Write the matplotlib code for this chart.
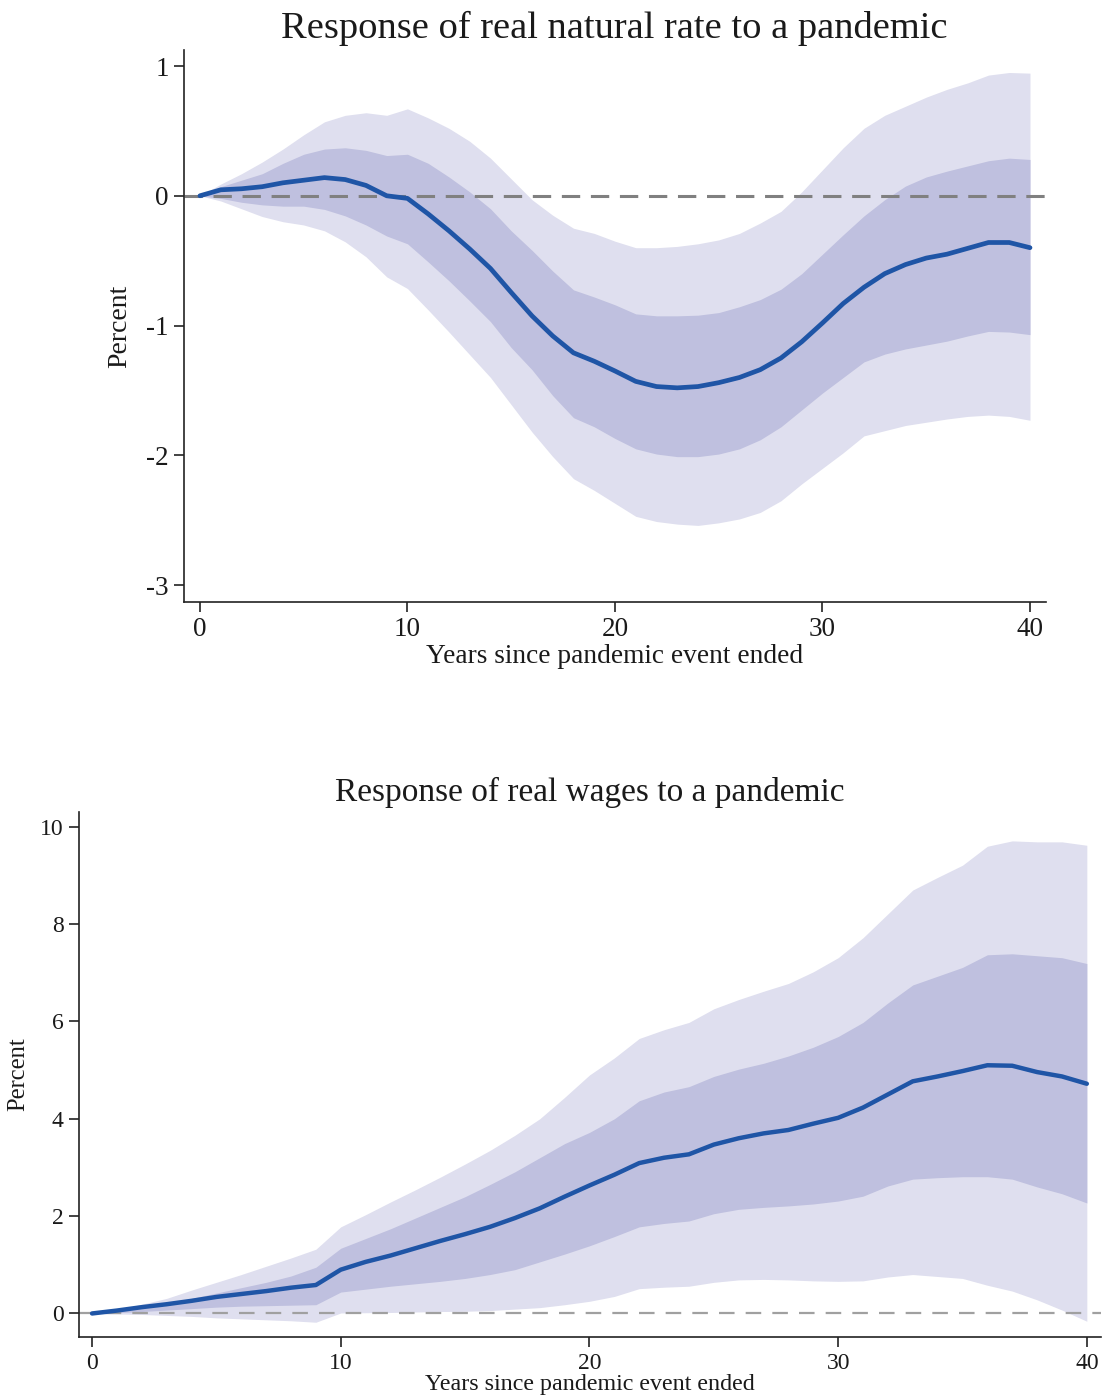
import matplotlib
matplotlib.use("Agg")
import matplotlib.pyplot as plt
import numpy as np

plt.rcParams['font.family'] = ['Liberation Serif', 'DejaVu Serif']

years = list(range(0, 41))

# Top panel: real natural rate
rate_mean = [0, 0.046, 0.054, 0.07, 0.1, 0.12, 0.14, 0.125, 0.08, 0.0, -0.02, -0.14, -0.27, -0.41,
             -0.56, -0.745, -0.925, -1.08, -1.21, -1.275, -1.35, -1.43, -1.47, -1.48, -1.47, -1.44,
             -1.40, -1.34, -1.25, -1.125, -0.98, -0.83, -0.705, -0.60, -0.53, -0.48, -0.45, -0.405,
             -0.36, -0.36, -0.40]
rate_hi90 = [0, 0.09, 0.17, 0.26, 0.36, 0.47, 0.57, 0.62, 0.64, 0.62, 0.67, 0.60, 0.52, 0.42, 0.29,
             0.13, -0.03, -0.15, -0.25, -0.29, -0.35, -0.40, -0.40, -0.39, -0.37, -0.34, -0.29,
             -0.21, -0.12, 0.03, 0.20, 0.37, 0.52, 0.62, 0.69, 0.76, 0.82, 0.87, 0.93, 0.95, 0.945]
rate_hi68 = [0, 0.07, 0.12, 0.17, 0.25, 0.32, 0.36, 0.37, 0.35, 0.31, 0.32, 0.25, 0.145, 0.03, -0.10,
             -0.27, -0.42, -0.58, -0.725, -0.78, -0.84, -0.91, -0.925, -0.925, -0.92, -0.90, -0.855,
             -0.80, -0.72, -0.60, -0.45, -0.30, -0.155, -0.03, 0.075, 0.145, 0.19, 0.23, 0.27, 0.29, 0.28]
rate_lo68 = [0, -0.02, -0.05, -0.07, -0.08, -0.08, -0.105, -0.155, -0.225, -0.31, -0.37, -0.51, -0.655,
             -0.81, -0.97, -1.17, -1.34, -1.54, -1.71, -1.78, -1.87, -1.95, -1.99, -2.01, -2.01, -1.99,
             -1.95, -1.88, -1.78, -1.65, -1.52, -1.40, -1.28, -1.22, -1.18, -1.15, -1.12, -1.08,
             -1.045, -1.05, -1.07]
rate_lo90 = [0, -0.04, -0.10, -0.16, -0.20, -0.225, -0.27, -0.355, -0.47, -0.625, -0.715, -0.88, -1.05,
             -1.225, -1.40, -1.61, -1.82, -2.01, -2.18, -2.27, -2.37, -2.47, -2.51, -2.53, -2.54, -2.52,
             -2.49, -2.44, -2.35, -2.22, -2.10, -1.98, -1.85, -1.81, -1.77, -1.745, -1.72, -1.70,
             -1.69, -1.70, -1.73]

# Bottom panel: real wages
wage_mean = [0, 0.06, 0.13, 0.19, 0.26, 0.34, 0.40, 0.46, 0.53, 0.585, 0.90, 1.06, 1.19, 1.34, 1.49,
             1.63, 1.78, 1.96, 2.16, 2.40, 2.63, 2.85, 3.09, 3.20, 3.27, 3.47, 3.60, 3.70, 3.77, 3.90,
             4.02, 4.23, 4.50, 4.77, 4.87, 4.98, 5.10, 5.09, 4.96, 4.87, 4.72]
wage_hi90 = [0, 0.07, 0.19, 0.31, 0.48, 0.64, 0.80, 0.97, 1.14, 1.32, 1.78, 2.03, 2.29, 2.54, 2.80,
             3.07, 3.35, 3.66, 4.00, 4.44, 4.90, 5.25, 5.65, 5.83, 5.98, 6.26, 6.45, 6.62, 6.78, 7.02,
             7.31, 7.72, 8.21, 8.70, 8.96, 9.21, 9.60, 9.71, 9.69, 9.69, 9.62]
wage_hi68 = [0, 0.04, 0.12, 0.20, 0.31, 0.42, 0.53, 0.64, 0.77, 0.95, 1.34, 1.54, 1.74, 1.96, 2.18,
             2.40, 2.65, 2.91, 3.20, 3.49, 3.72, 4.00, 4.37, 4.55, 4.66, 4.87, 5.02, 5.14, 5.29, 5.47,
             5.69, 5.98, 6.38, 6.75, 6.93, 7.11, 7.37, 7.39, 7.35, 7.31, 7.19]
wage_lo68 = [0, 0.015, 0.04, 0.07, 0.10, 0.13, 0.15, 0.16, 0.17, 0.18, 0.44, 0.50, 0.56, 0.61, 0.66,
             0.72, 0.80, 0.90, 1.06, 1.22, 1.39, 1.58, 1.78, 1.85, 1.90, 2.05, 2.14, 2.18, 2.21, 2.25,
             2.31, 2.41, 2.62, 2.76, 2.79, 2.81, 2.81, 2.76, 2.60, 2.46, 2.27]
wage_lo90 = [0, -0.01, -0.02, -0.04, -0.06, -0.09, -0.11, -0.13, -0.15, -0.18, 0.01, 0.015, 0.02, 0.03,
             0.04, 0.045, 0.06, 0.09, 0.12, 0.18, 0.25, 0.35, 0.51, 0.54, 0.56, 0.64, 0.69, 0.70, 0.69,
             0.67, 0.66, 0.67, 0.75, 0.80, 0.76, 0.72, 0.58, 0.46, 0.28, 0.07, -0.16]

top_title = "Response of real natural rate to a pandemic"
bot_title = "Response of real wages to a pandemic"
xlabel = "Years since pandemic event ended"
ylabel = "Percent"
top_yticks = [1, 0, -1, -2, -3]
bot_yticks = [0, 2, 4, 6, 8, 10]
xticks = [0, 10, 20, 30, 40]

LIGHT = "#dfdfef"
DARK = "#bfc0df"
LINE = "#1f55a6"
TXT = "#1a1a1a"

fig = plt.figure(figsize=(11.03, 13.98), dpi=100)
ax1 = fig.add_axes([0.1668, 0.5694, 0.7815, 0.3948])
ax2 = fig.add_axes([0.0714, 0.0434, 0.9268, 0.3760])


def style(ax, fs_tick, ticklen):
    for s in ["top", "right"]:
        ax.spines[s].set_visible(False)
    for s in ["left", "bottom"]:
        ax.spines[s].set_linewidth(1.2)
        ax.spines[s].set_color("#222222")
    ax.tick_params(axis="both", direction="out", length=ticklen, width=1.2, color="#222222",
                   labelsize=fs_tick, labelcolor=TXT, pad=4)


x = np.array(years)

# Top
ax1.fill_between(x, rate_lo90, rate_hi90, color=LIGHT, lw=0)
ax1.fill_between(x, rate_lo68, rate_hi68, color=DARK, lw=0)
ax1.axhline(0, color="#808080", lw=2.2, ls=(0, (6, 3.5)), zorder=2)
ax1.plot(x, rate_mean, color=LINE, lw=3.4, solid_capstyle="round", zorder=3)
ax1.set_xlim(-0.77, 40.77)
ax1.set_ylim(-3.13, 1.123)
ax1.set_xticks(xticks)
ax1.set_yticks(top_yticks)
ax1.set_yticklabels([f"{t:g}" for t in top_yticks])
style(ax1, 19.5, 7)
ax1.set_xlabel(xlabel, fontsize=19.7, color=TXT)
ax1.xaxis.set_label_coords(0.4994, -0.077)
ax1.set_ylabel(ylabel, fontsize=20, color=TXT)
ax1.yaxis.set_label_coords(-0.06, 0.5)
ax1.text(0.4994, 1.040, top_title, transform=ax1.transAxes, ha="center", va="center",
         fontsize=27.7, color=TXT)

# Bottom
ax2.fill_between(x, wage_lo90, wage_hi90, color=LIGHT, lw=0)
ax2.fill_between(x, wage_lo68, wage_hi68, color=DARK, lw=0)
ax2.axhline(0, color="#a0a0a0", lw=1.6, ls=(0, (7, 5)), zorder=2)
ax2.plot(x, wage_mean, color=LINE, lw=3.2, solid_capstyle="round", zorder=3)
ax2.set_xlim(-0.535, 40.57)
ax2.set_ylim(-0.49, 10.31)
ax2.set_xticks(xticks)
ax2.set_yticks(bot_yticks)
style(ax2, 17, 7)
ax2.set_xlabel(xlabel, fontsize=17.3, color=TXT)
ax2.xaxis.set_label_coords(0.4997, -0.070)
ax2.set_ylabel(ylabel, fontsize=17.7, color=TXT)
ax2.yaxis.set_label_coords(-0.048, 0.5)
ax2.text(0.4997, 1.037, bot_title, transform=ax2.transAxes, ha="center", va="center",
         fontsize=24, color=TXT)

fig.savefig("out.png", dpi=100)
